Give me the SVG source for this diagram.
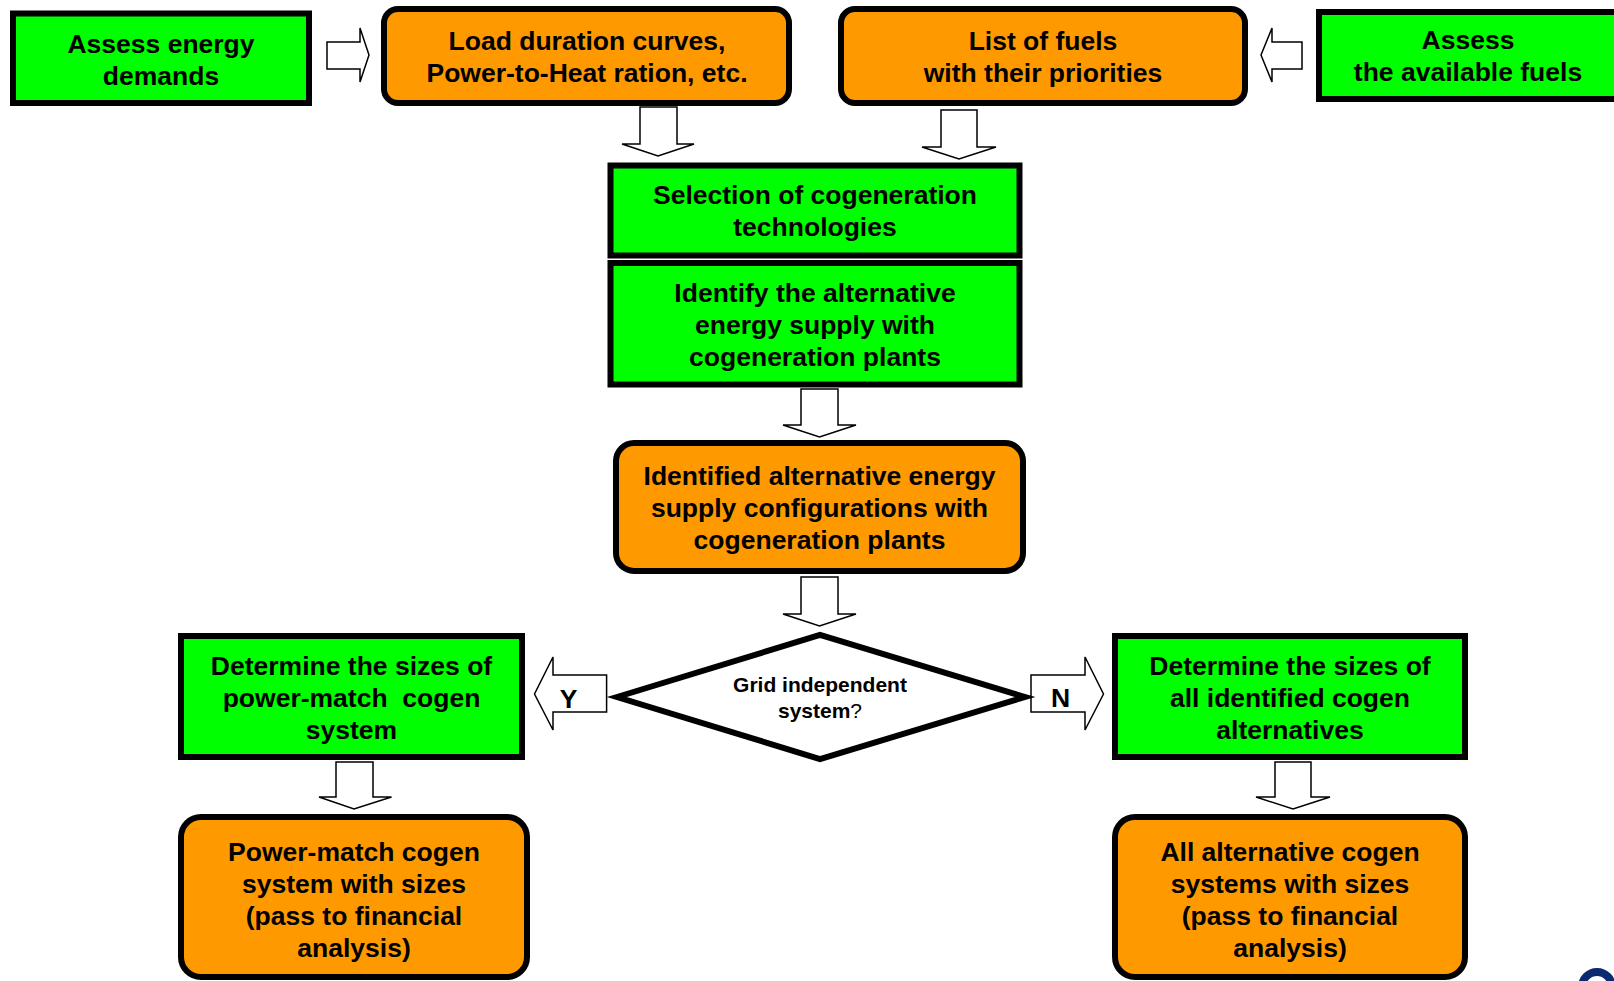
<svg xmlns="http://www.w3.org/2000/svg" width="1614" height="981" viewBox="0 0 1614 981">
<style>
.g{fill:#00FF00;stroke:#000;stroke-width:6}
.o{fill:#FF9900;stroke:#000;stroke-width:6}
.a{fill:#fff;stroke:#000;stroke-width:1.5;stroke-linejoin:miter}
text{font-family:"Liberation Sans",Arial,sans-serif;font-weight:bold;font-size:26.5px;fill:#000;text-anchor:middle}
.s{font-size:21px}
</style>
<rect width="1614" height="981" fill="#fff"/>
<g id="connectors">
<path class="a" d="M327,42 H360 V28 L369,55 L360,82 V69 H327 Z"/>
<path class="a" d="M1302,42 H1272 V28 L1261,55 L1272,82 V69 H1302 Z"/>
<path class="a" d="M640,107 H677 V144 H694 L658,156 L622,144 H640 Z"/>
<path class="a" d="M941,110 H977 V147 H996 L959,159 L922,147 H941 Z"/>
<path class="a" d="M801,389 H838 V425 H856 L819.5,437 L783,425 H801 Z"/>
<path class="a" d="M801,577 H838 V614 H856 L819.5,626 L783,614 H801 Z"/>
<path class="a" d="M606.6,675 H553 V657 L534.5,694 L553,730 V712 H606.6 Z"/>
<path class="a" d="M1031,675 H1085 V657 L1103.5,694 L1085,730 V712 H1031 Z"/>
<path class="a" d="M336,762 H373 V797 H391.5 L354,809 L319,797 H336 Z"/>
<path class="a" d="M1275,762 H1311 V797 H1330 L1293,809 L1256,797 H1275 Z"/>
<text x="568.5" y="708">Y</text>
<text x="1060.5" y="707">N</text>
</g>
<g id="assess-demands">
<rect class="g" x="13" y="13.5" width="296" height="89.5"/>
<text x="161" y="52.5">Assess energy</text>
<text x="161" y="84.5">demands</text>
</g>
<g id="load-curves">
<rect class="o" x="384" y="9" width="405" height="94" rx="14"/>
<text x="587" y="50">Load duration curves,</text>
<text x="587" y="82">Power-to-Heat ration, etc.</text>
</g>
<g id="fuel-list">
<rect class="o" x="841" y="9" width="404" height="94" rx="14"/>
<text x="1043" y="50">List of fuels</text>
<text x="1043" y="82">with their priorities</text>
</g>
<g id="assess-fuels">
<rect class="g" x="1319" y="12" width="310" height="87"/>
<text x="1468" y="48.5">Assess</text>
<text x="1468" y="80.5">the available fuels</text>
</g>
<g id="selection">
<rect class="g" x="610.5" y="165.5" width="409" height="90"/>
<text x="815" y="203.5">Selection of cogeneration</text>
<text x="815" y="235.5">technologies</text>
</g>
<g id="identify">
<rect class="g" x="610.5" y="263" width="409" height="121.5"/>
<text x="815" y="301.5">Identify the alternative</text>
<text x="815" y="333.5">energy supply with</text>
<text x="815" y="365.5">cogeneration plants</text>
</g>
<g id="identified-configs">
<rect class="o" x="616" y="443" width="407" height="128" rx="18"/>
<text x="819.5" y="484.5">Identified alternative energy</text>
<text x="819.5" y="516.5">supply configurations with</text>
<text x="819.5" y="548.5">cogeneration plants</text>
</g>
<g id="grid-decision">
<polygon points="617,697 820,635 1025,697 820,759" fill="#fff" stroke="#000" stroke-width="6" stroke-linejoin="miter"/>
<text class="s" x="820" y="691.5">Grid independent</text>
<text class="s" x="820" y="717.5">system<tspan font-weight="normal">?</tspan></text>
</g>
<g id="size-power-match">
<rect class="g" x="181" y="636" width="341" height="121"/>
<text x="351.5" y="674.5">Determine the sizes of</text>
<text x="351.5" y="706.5" xml:space="preserve">power-match  cogen</text>
<text x="351.5" y="738.5">system</text>
</g>
<g id="size-all">
<rect class="g" x="1115" y="636" width="350" height="121"/>
<text x="1290" y="674.5">Determine the sizes of</text>
<text x="1290" y="706.5">all identified cogen</text>
<text x="1290" y="738.5">alternatives</text>
</g>
<g id="power-match-result">
<rect class="o" x="181" y="817" width="346" height="160" rx="20"/>
<text x="354" y="860.5">Power-match cogen</text>
<text x="354" y="892.5">system with sizes</text>
<text x="354" y="924.5">(pass to financial</text>
<text x="354" y="956.5">analysis)</text>
</g>
<g id="all-result">
<rect class="o" x="1115" y="817" width="350" height="160" rx="20"/>
<text x="1290" y="860.5">All alternative cogen</text>
<text x="1290" y="892.5">systems with sizes</text>
<text x="1290" y="924.5">(pass to financial</text>
<text x="1290" y="956.5">analysis)</text>
</g>
<circle cx="1597" cy="987" r="15" fill="none" stroke="#0B2A6F" stroke-width="8"/>
</svg>
